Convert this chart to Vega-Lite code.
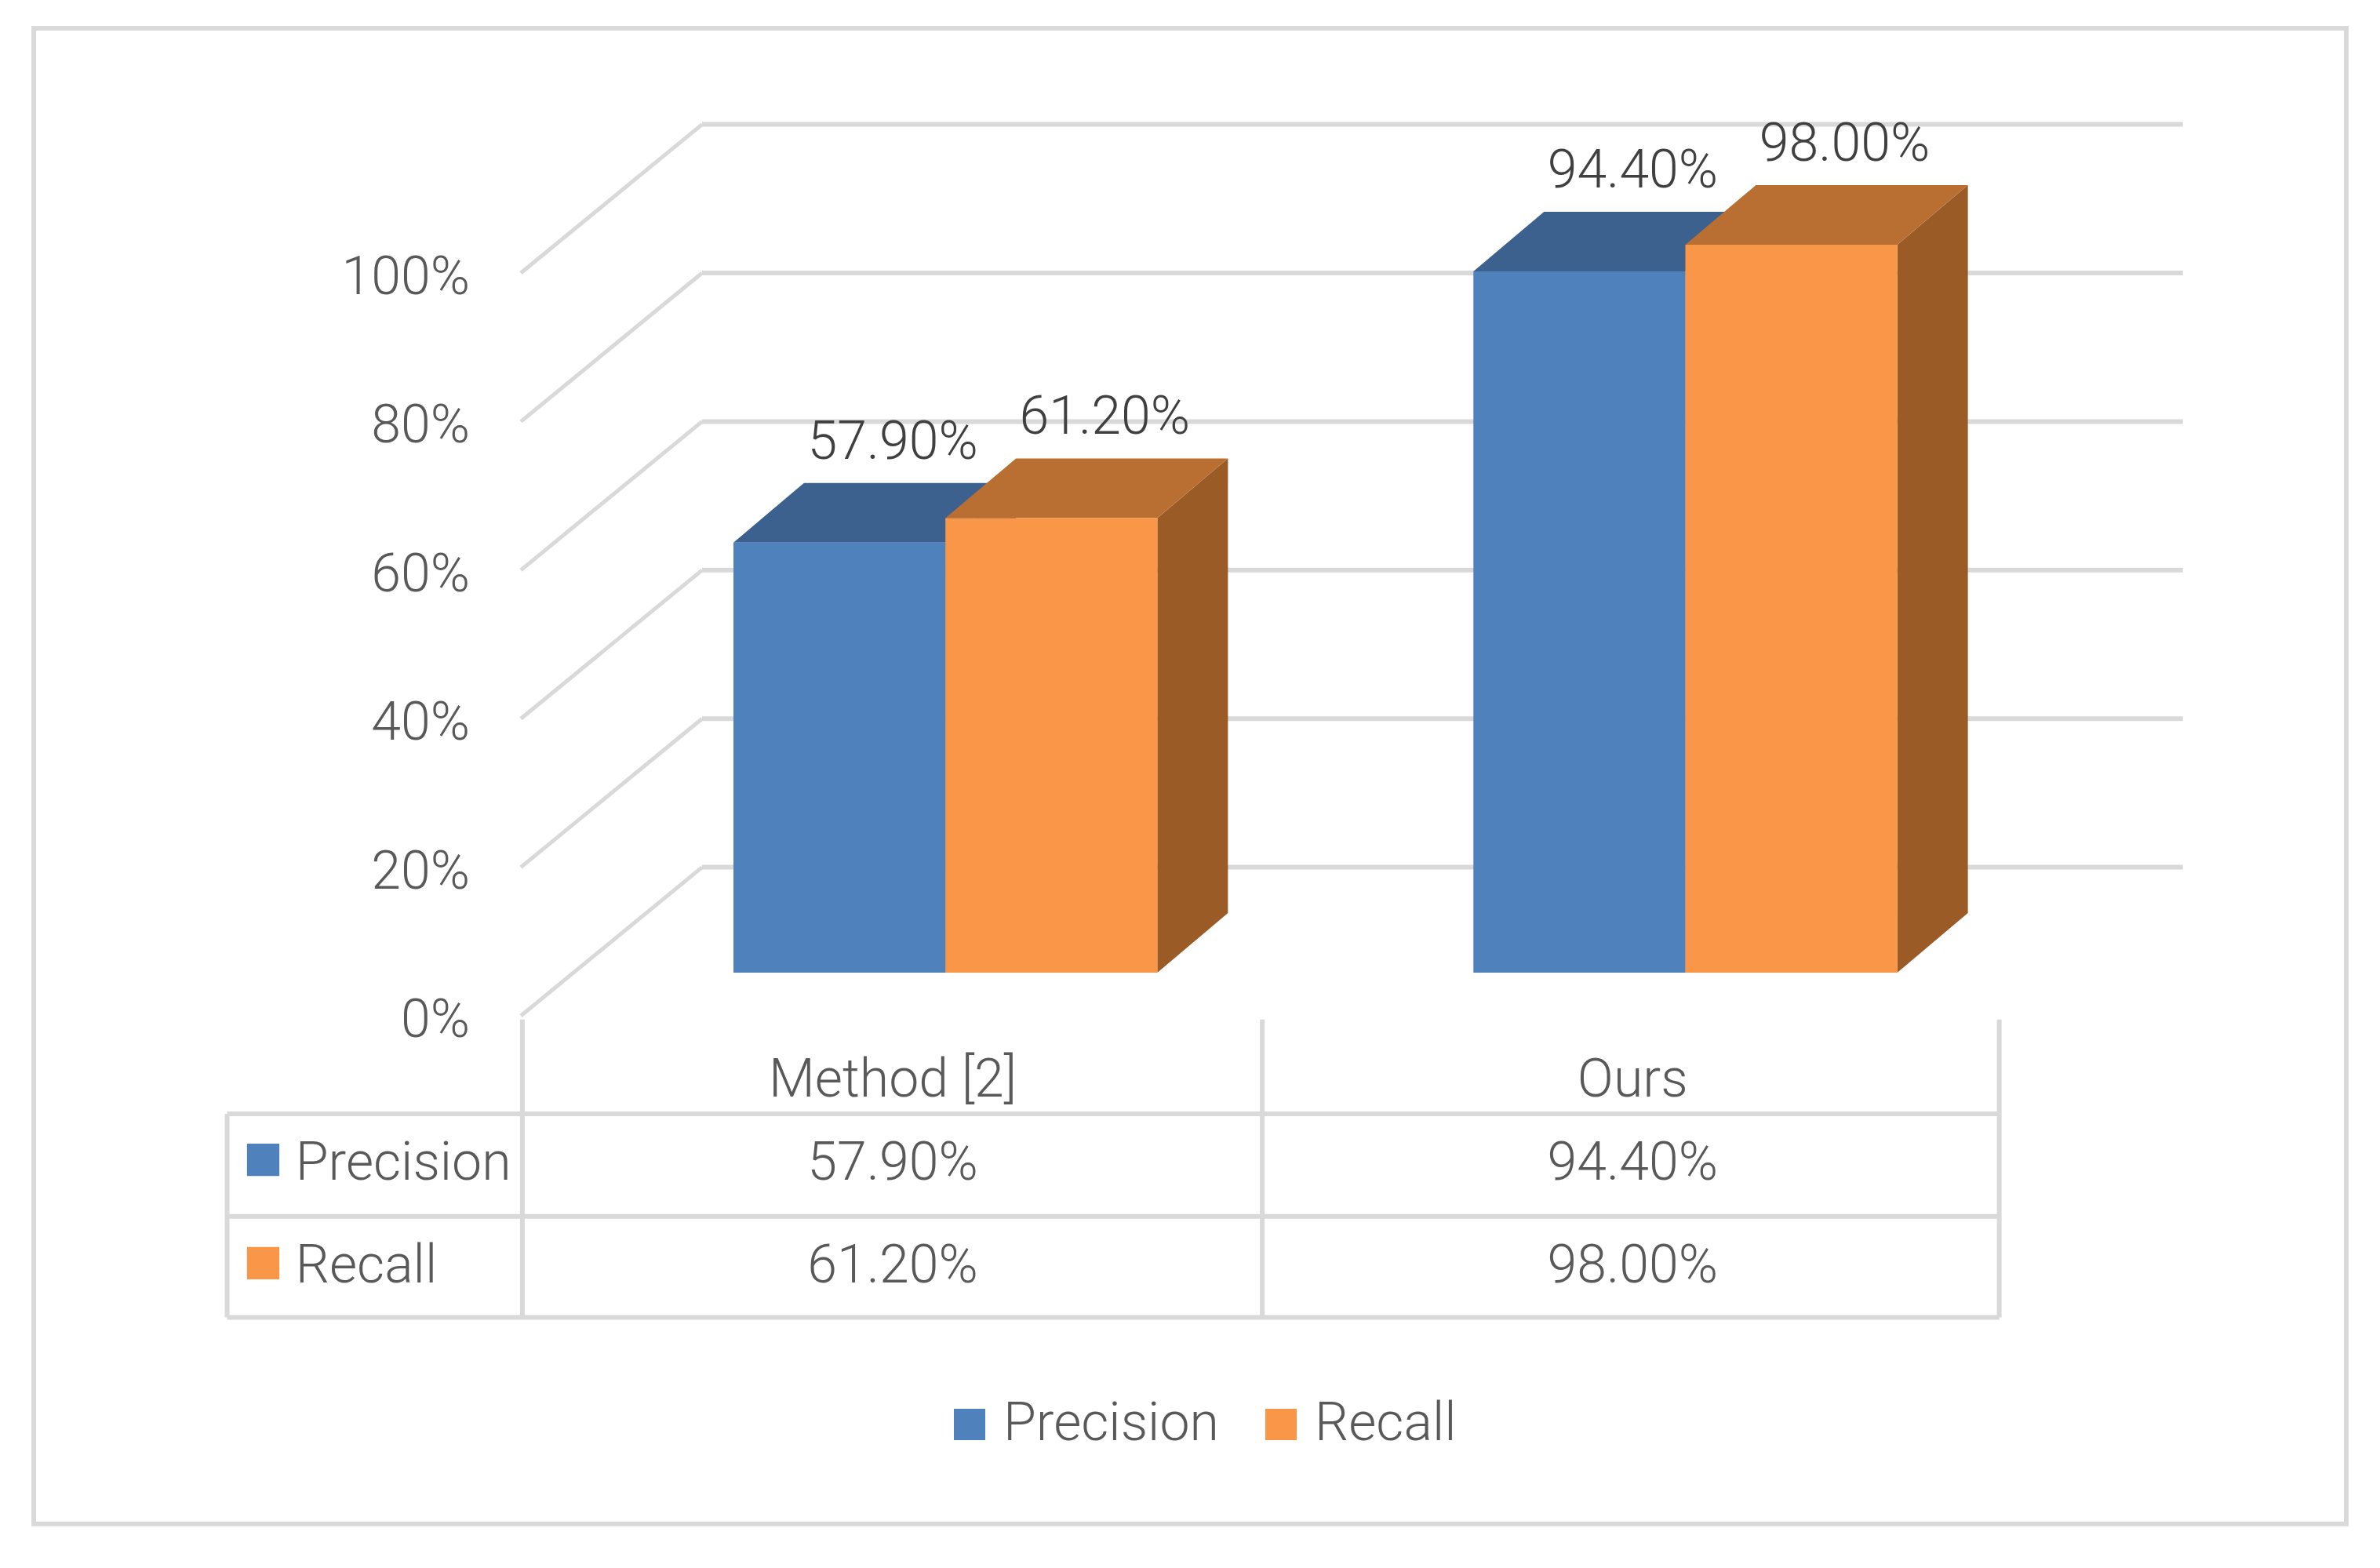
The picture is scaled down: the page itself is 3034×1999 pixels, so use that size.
{
"$schema":"https://vega.github.io/schema/vega-lite/v6.json",
"width":3034,"height":1999,"padding":0,
"autosize":{"type":"fit","contains":"padding"},
"background":"#ffffff",
"config":{"view":{"stroke":null},"text":{"font":"Roboto","fontWeight":300,"fontSize":68,"fill":"#595959"}},
"datasets":{"ticks":[{"tick":0},{"tick":20},{"tick":40},{"tick":60},{"tick":80},{"tick":100}]},
"data":{"values":[
{"method":"Method [2]","series":"Precision","value":57.9},
{"method":"Method [2]","series":"Recall","value":61.2},
{"method":"Ours","series":"Precision","value":94.4},
{"method":"Ours","series":"Recall","value":98.0}]},
"transform":[
{"calculate":"(datum.method=='Ours'?0.995:0)+0.2859+(datum.series=='Recall'?0.285:0)","as":"left"},
{"calculate":"datum.value+5.81","as":"top"},
{"calculate":"datum.series=='Recall'?-33.3:-19.4","as":"rowY"},
{"calculate":"(datum.method=='Ours'?1.495:0.5)","as":"colX"},
{"calculate":"format(datum.value,'.2f')+'%'","as":"label"}
],
"layer":[
{"data":{"values":[{}]},"mark":{"type":"rect","fill":"transparent","stroke":"#d9d9d9","strokeWidth":6},
 "encoding":{
 "x":{"datum":-0.655,"type":"quantitative","scale":{"domain":[-0.7004,2.5],"nice":false,"zero":false},"axis":null},
 "x2":{"datum":2.4546},
 "y":{"datum":132.95,"type":"quantitative","scale":{"domain":[-74.34,136.75],"nice":false,"zero":false},"axis":null},
 "y2":{"datum":-68.4}}},
{"data":{"name":"ticks"},"transform":[{"calculate":"datum.tick+20","as":"backY"}],"mark":{"type":"rule","stroke":"#d9d9d9","strokeWidth":6},
 "encoding":{
 "x":{"datum":0.2437,"type":"quantitative","scale":{"domain":[-0.7004,2.5],"nice":false,"zero":false},"axis":null},
 "x2":{"datum":2.235},
 "y":{"field":"backY","type":"quantitative","scale":{"domain":[-74.34,136.75],"nice":false,"zero":false},"axis":null}}},
{"data":{"name":"ticks"},"transform":[{"calculate":"datum.tick+20","as":"backY"}],"mark":{"type":"rule","stroke":"#d9d9d9","strokeWidth":5},
 "encoding":{
 "x":{"datum":0,"type":"quantitative","scale":{"domain":[-0.7004,2.5],"nice":false,"zero":false},"axis":null},
 "x2":{"datum":0.2437},
 "y":{"field":"tick","type":"quantitative","scale":{"domain":[-74.34,136.75],"nice":false,"zero":false},"axis":null},
 "y2":{"field":"backY"}}},
{"data":{"name":"ticks"},"transform":[{"calculate":"datum.tick+'%'","as":"tickLabel"}],"mark":{"type":"text","align":"right","baseline":"middle","dy":7},
 "encoding":{
 "x":{"datum":-0.0686,"type":"quantitative","scale":{"domain":[-0.7004,2.5],"nice":false,"zero":false},"axis":null},
 "y":{"field":"tick","type":"quantitative","scale":{"domain":[-74.34,136.75],"nice":false,"zero":false},"axis":null},
 "text":{"field":"tickLabel"}}},
{"data":{"values":[{}]},"mark":{"type":"rule","stroke":"#d9d9d9","strokeWidth":6},
 "encoding":{"x":{"datum":-0.395,"type":"quantitative","scale":{"domain":[-0.7004,2.5],"nice":false,"zero":false},"axis":null},"x2":{"datum":1.988},
 "y":{"datum":-13.2,"type":"quantitative","scale":{"domain":[-74.34,136.75],"nice":false,"zero":false},"axis":null}}},
{"data":{"values":[{}]},"mark":{"type":"rule","stroke":"#d9d9d9","strokeWidth":6},
 "encoding":{"x":{"datum":-0.395,"type":"quantitative","scale":{"domain":[-0.7004,2.5],"nice":false,"zero":false},"axis":null},"x2":{"datum":1.988},
 "y":{"datum":-27,"type":"quantitative","scale":{"domain":[-74.34,136.75],"nice":false,"zero":false},"axis":null}}},
{"data":{"values":[{}]},"mark":{"type":"rule","stroke":"#d9d9d9","strokeWidth":6},
 "encoding":{"x":{"datum":-0.395,"type":"quantitative","scale":{"domain":[-0.7004,2.5],"nice":false,"zero":false},"axis":null},"x2":{"datum":1.988},
 "y":{"datum":-40.6,"type":"quantitative","scale":{"domain":[-74.34,136.75],"nice":false,"zero":false},"axis":null}}},
{"data":{"values":[{}]},"mark":{"type":"rule","stroke":"#d9d9d9","strokeWidth":6},
 "encoding":{"x":{"datum":-0.395,"type":"quantitative","scale":{"domain":[-0.7004,2.5],"nice":false,"zero":false},"axis":null},
 "y":{"datum":-13.2,"type":"quantitative","scale":{"domain":[-74.34,136.75],"nice":false,"zero":false},"axis":null},"y2":{"datum":-40.6}}},
{"data":{"values":[{}]},"mark":{"type":"rule","stroke":"#d9d9d9","strokeWidth":6},
 "encoding":{"x":{"datum":0.002,"type":"quantitative","scale":{"domain":[-0.7004,2.5],"nice":false,"zero":false},"axis":null},
 "y":{"datum":-0.5,"type":"quantitative","scale":{"domain":[-74.34,136.75],"nice":false,"zero":false},"axis":null},"y2":{"datum":-40.6}}},
{"data":{"values":[{}]},"mark":{"type":"rule","stroke":"#d9d9d9","strokeWidth":6},
 "encoding":{"x":{"datum":0.997,"type":"quantitative","scale":{"domain":[-0.7004,2.5],"nice":false,"zero":false},"axis":null},
 "y":{"datum":-0.5,"type":"quantitative","scale":{"domain":[-74.34,136.75],"nice":false,"zero":false},"axis":null},"y2":{"datum":-40.6}}},
{"data":{"values":[{}]},"mark":{"type":"rule","stroke":"#d9d9d9","strokeWidth":6},
 "encoding":{"x":{"datum":1.988,"type":"quantitative","scale":{"domain":[-0.7004,2.5],"nice":false,"zero":false},"axis":null},
 "y":{"datum":-0.5,"type":"quantitative","scale":{"domain":[-74.34,136.75],"nice":false,"zero":false},"axis":null},"y2":{"datum":-40.6}}},
{"transform":[{"calculate":"[0,1]","as":"d"},{"flatten":["d"]},
  {"calculate":"datum.left+0.285+datum.d*0.0949","as":"sx"},
  {"calculate":"5.81+datum.d*8.03","as":"sy"},
  {"calculate":"datum.top+datum.d*8.03","as":"sy2"}],
 "mark":{"type":"area","orient":"vertical"},
 "encoding":{
 "x":{"field":"sx","type":"quantitative","scale":{"domain":[-0.7004,2.5],"nice":false,"zero":false},"axis":null},
 "y":{"field":"sy","type":"quantitative","scale":{"domain":[-74.34,136.75],"nice":false,"zero":false},"axis":null},
 "y2":{"field":"sy2"},
 "detail":{"field":"method"},
 "color":{"field":"series","type":"nominal","scale":{"domain":["Precision","Recall"],"range":["#34557d","#9a5b27"]},"legend":null}}},
{"transform":[{"calculate":"[0,1]","as":"d"},{"flatten":["d"]},
  {"calculate":"datum.left+datum.d*0.0949","as":"tx"},
  {"calculate":"datum.left+0.285+datum.d*0.0949","as":"tx2"},
  {"calculate":"datum.top+datum.d*8.03","as":"ty"}],
 "mark":{"type":"area","orient":"horizontal"},
 "encoding":{
 "x":{"field":"tx","type":"quantitative","scale":{"domain":[-0.7004,2.5],"nice":false,"zero":false},"axis":null},
 "x2":{"field":"tx2"},
 "y":{"field":"ty","type":"quantitative","scale":{"domain":[-74.34,136.75],"nice":false,"zero":false},"axis":null},
 "detail":{"field":"method"},
 "color":{"field":"series","type":"nominal","scale":{"domain":["Precision","Recall"],"range":["#3d618e","#b96f32"]},"legend":null}}},
{"transform":[{"calculate":"datum.left+0.285","as":"right"},{"calculate":"5.81","as":"base"}],
 "mark":{"type":"rect"},
 "encoding":{
 "x":{"field":"left","type":"quantitative","scale":{"domain":[-0.7004,2.5],"nice":false,"zero":false},"axis":null},
 "x2":{"field":"right"},
 "y":{"field":"top","type":"quantitative","scale":{"domain":[-74.34,136.75],"nice":false,"zero":false},"axis":null},
 "y2":{"field":"base"},
 "color":{"field":"series","type":"nominal","scale":{"domain":["Precision","Recall"],"range":["#4f81bd","#f99647"]},
   "legend":{"orient":"none","legendX":1202,"legendY":1782,"direction":"horizontal","title":null,"symbolType":"square","symbolSize":1600,"symbolStrokeWidth":0,"labelFont":"Roboto","labelFontWeight":300,"labelFontSize":68,"labelColor":"#595959","labelOffset":9,"labelLimit":500,"columnPadding":45,"padding":0}}}},
{"transform":[{"filter":"datum.method=='Ours'"}],
 "mark":{"type":"point","shape":"square","filled":true,"size":1700,"opacity":1},
 "encoding":{
 "x":{"datum":-0.3465,"type":"quantitative","scale":{"domain":[-0.7004,2.5],"nice":false,"zero":false},"axis":null},
 "y":{"field":"rowY","type":"quantitative","scale":{"domain":[-74.34,136.75],"nice":false,"zero":false},"axis":null},
 "color":{"field":"series","type":"nominal","scale":{"domain":["Precision","Recall"],"range":["#4f81bd","#f99647"]},"legend":null}}},
{"transform":[{"filter":"datum.method=='Ours'"}],
 "mark":{"type":"text","align":"left","baseline":"middle","dy":5},
 "encoding":{
 "x":{"datum":-0.303,"type":"quantitative","scale":{"domain":[-0.7004,2.5],"nice":false,"zero":false},"axis":null},
 "y":{"field":"rowY","type":"quantitative","scale":{"domain":[-74.34,136.75],"nice":false,"zero":false},"axis":null},
 "text":{"field":"series"}}},
{"mark":{"type":"text","align":"center","baseline":"middle","dy":5},
 "encoding":{
 "x":{"field":"colX","type":"quantitative","scale":{"domain":[-0.7004,2.5],"nice":false,"zero":false},"axis":null},
 "y":{"field":"rowY","type":"quantitative","scale":{"domain":[-74.34,136.75],"nice":false,"zero":false},"axis":null},
 "text":{"field":"label"}}},
{"transform":[{"filter":"datum.series=='Precision'"}],
 "mark":{"type":"text","align":"center","baseline":"middle","dy":4},
 "encoding":{
 "x":{"field":"colX","type":"quantitative","scale":{"domain":[-0.7004,2.5],"nice":false,"zero":false},"axis":null},
 "y":{"datum":-8.3,"type":"quantitative","scale":{"domain":[-74.34,136.75],"nice":false,"zero":false},"axis":null},
 "text":{"field":"method"}}},
{"transform":[{"calculate":"datum.left+0.1425","as":"mid"}],
 "mark":{"type":"text","align":"center","baseline":"middle","dx":68,"dy":-127,"fill":"#404040"},
 "encoding":{
 "x":{"field":"mid","type":"quantitative","scale":{"domain":[-0.7004,2.5],"nice":false,"zero":false},"axis":null},
 "y":{"field":"top","type":"quantitative","scale":{"domain":[-74.34,136.75],"nice":false,"zero":false},"axis":null},
 "text":{"field":"label"}}}
],
"resolve":{"scale":{"color":"independent"}}
}
